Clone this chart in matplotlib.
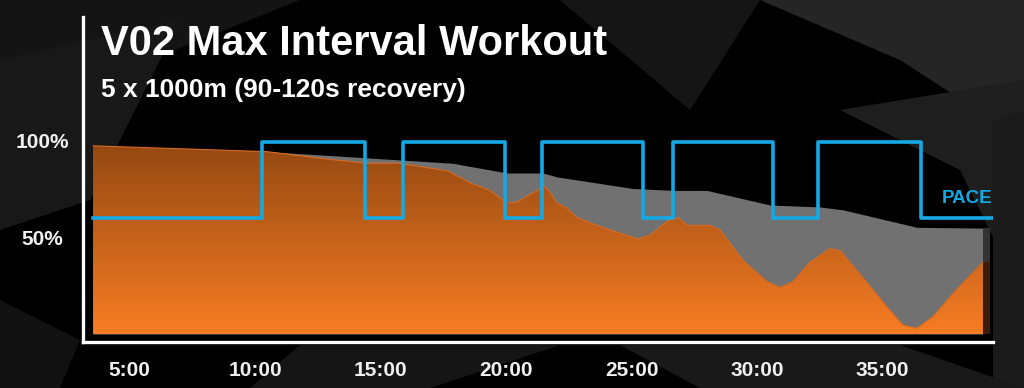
import numpy as np
import matplotlib.pyplot as plt
from matplotlib.patches import Polygon

# time in minutes, values in percent
orange_t = [3.55, 10.48, 12.99, 14.46, 15.78, 17.69, 18.57, 19.36, 20.04, 20.44,
            20.96, 21.55, 21.75, 22.03, 22.43, 22.83, 23.63, 24.54, 25.26, 25.74,
            26.53, 26.85, 27.25, 28.13, 28.53, 29.44, 30.40, 30.92, 31.43, 32.11,
            32.91, 33.31, 34.22, 35.18, 35.82, 36.37, 37.01, 37.81, 39.00]
orange_v = [97, 94, 90, 88, 88, 84, 78, 74, 67.5, 68,
            72, 76, 73, 67.5, 65, 60, 56, 52, 49, 51,
            59, 60, 56, 56, 53.6, 38, 27, 24, 27, 37,
            44, 43, 29, 14, 4.6, 3, 9, 21, 37]

gray_t = [3.55, 10.48, 12.99, 17.89, 20.04, 21.47, 22.03, 25.06, 26.77, 28.01,
          30.52, 32.51, 33.43, 36.37, 39.00]
gray_v = [97, 94, 92, 88, 83, 83, 81, 75, 74, 74,
          66.5, 65.5, 64, 55, 54.6]

pace_t = [3.55, 10.28, 14.38, 15.9, 19.96, 21.43, 25.46, 26.65, 30.64, 32.43, 36.53, 39.36]
pace_v = [60, 99, 60, 99, 60, 99, 60, 99, 60, 99, 60, 60]

tick_minutes = [5, 10, 15, 20, 25, 30, 35]
tick_labels = ['5:00', '10:00', '15:00', '20:00', '25:00', '30:00', '35:00']
y_ticks = [100, 50]
y_labels = ['100%', '50%']

FONT = 'Liberation Sans'
BLUE = '#14a8e4'

W, H = 1024, 388
fig = plt.figure(figsize=(W / 100, H / 100), dpi=100, facecolor='black')

# faint polygon background
bg = fig.add_axes([0, 0, 1, 1])
bg.set_xlim(0, W)
bg.set_ylim(H, 0)
bg.axis('off')
bg.set_facecolor('black')
shapes = [
    ([(0, 0), (300, 0), (0, 120)], '#141414'),
    ([(0, 60), (180, 20), (90, 200), (0, 230)], '#181818'),
    ([(560, 0), (760, 0), (690, 110)], '#151515'),
    ([(760, 0), (1024, 0), (1024, 140), (900, 60)], '#252525'),
    ([(840, 110), (1024, 80), (1024, 300), (960, 170)], '#1e1e1e'),
    ([(993, 120), (1024, 110), (1024, 388), (993, 388)], '#1b1b1b'),
    ([(300, 345), (560, 345), (430, 388), (250, 388)], '#151515'),
    ([(620, 345), (900, 345), (1024, 388), (700, 388)], '#191919'),
    ([(0, 300), (80, 340), (60, 388), (0, 388)], '#111111'),
]
for pts, c in shapes:
    bg.add_patch(Polygon(pts, closed=True, facecolor=c, edgecolor='none'))

# main axes: pixel box x 83..993, y 17..342
ax = fig.add_axes([83 / W, 1 - 342 / H, (993 - 83) / W, (342 - 17) / H])
ax.patch.set_alpha(0)

ax.fill_between(gray_t, 0, gray_v, color='#717171', lw=0, zorder=1)
fill = ax.fill_between(orange_t, 0, orange_v, color='none', lw=0, zorder=2)

# vertical gradient for the orange area (dark at top, bright at bottom)
top_c = np.array([0.57, 0.28, 0.07])
bot_c = np.array([0.97, 0.49, 0.14])
frac = np.linspace(0, 1, 256)[:, None]
grad = top_c * (1 - frac) + bot_c * frac
img = ax.imshow(grad[:, None, :], extent=[orange_t[0], orange_t[-1], 0, 100],
                origin='upper', aspect='auto', zorder=2, interpolation='bilinear')
img.set_clip_path(fill.get_paths()[0], transform=ax.transData)
ax.plot(orange_t, orange_v, color='#d86a22', lw=0.8, zorder=3)
ax.set_xlim(3.15, 39.4)
ax.set_ylim(-4.1, 163.4)

# dark edge at the right end
edge_t = [orange_t[-1], orange_t[-1] + 0.28]
ax.fill_between(edge_t, 0, gray_v[-1], color='#333333', lw=0, zorder=1)
ax.fill_between(edge_t, 0, orange_v[-1], color='#3a1c08', lw=0, zorder=2)

ax.step(pace_t, pace_v, where='post', color=BLUE, lw=2.6, zorder=4)
ax.text(pace_t[-1], 70, 'PACE', color=BLUE, fontsize=13.5, fontweight='bold',
        family=FONT, ha='right', va='center', zorder=5)

for s in ['top', 'right']:
    ax.spines[s].set_visible(False)
for s in ['left', 'bottom']:
    ax.spines[s].set_color('white')
    ax.spines[s].set_linewidth(2.4)

ax.set_xticks(tick_minutes)
ax.set_xticklabels(tick_labels)
ax.set_yticks(y_ticks)
ax.set_yticklabels(y_labels)
ax.tick_params(length=0, colors='white', labelsize=15)
ax.tick_params(axis='x', pad=14)
ax.tick_params(axis='y', pad=29.5)
for lab in ax.get_xticklabels() + ax.get_yticklabels():
    lab.set_fontweight('bold')
    lab.set_family(FONT)
    lab.set_color('#f0f0f0')
for lab in ax.get_yticklabels():
    lab.set_horizontalalignment('center')

fig.text(101 / W, 1 - 44 / H, 'V02 Max Interval Workout', color='white', fontsize=30,
         fontweight='bold', family=FONT, va='center', ha='left')
fig.text(101 / W, 1 - 90 / H, '5 x 1000m (90-120s recovery)', color='white', fontsize=19,
         fontweight='bold', family=FONT, va='center', ha='left')

fig.savefig('out.png', dpi=100, facecolor='black')
